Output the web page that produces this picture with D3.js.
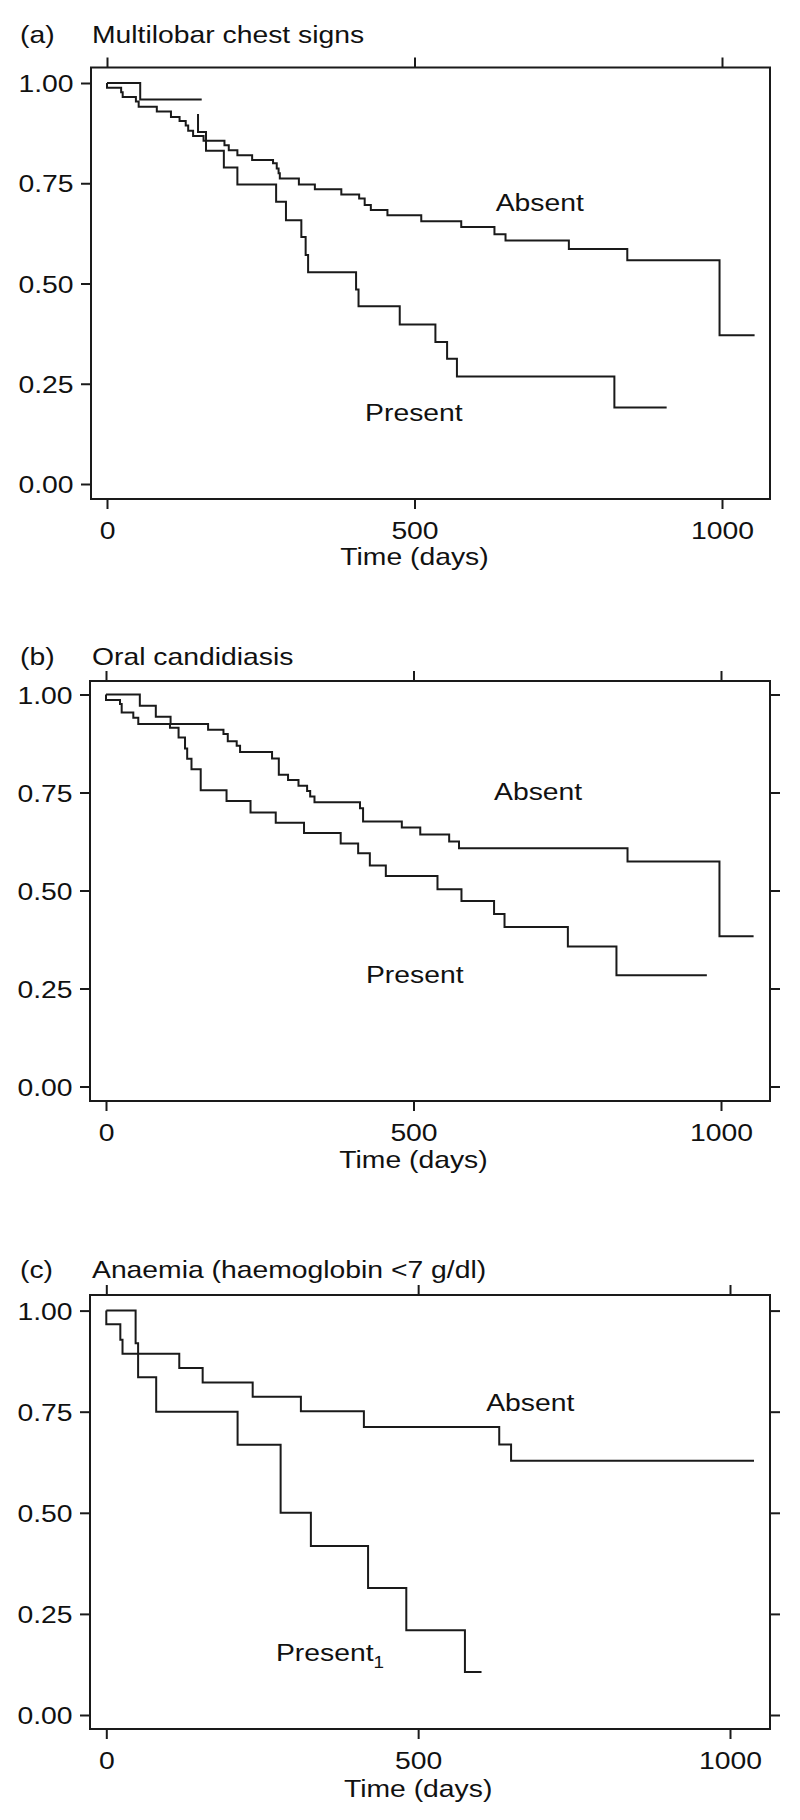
<!DOCTYPE html>
<html>
<head>
<meta charset="utf-8">
<script src="https://cdn.jsdelivr.net/npm/d3@7"></script>
<style>
  html, body { margin: 0; padding: 0; background: #fff; }
  svg { display: block; }
  text { font-family: "Liberation Sans", Arial, Helvetica, sans-serif; fill: #111; }
</style>
</head>
<body>
<svg id="chart" width="800" height="1820"></svg>
<script>
// ---------- data ----------
const panelLetters = ["(a)", "(b)", "(c)"];
const panelTitles = ["Multilobar chest signs", "Oral candidiasis", "Anaemia (haemoglobin <7 g/dl)"];
const xTicks = [0, 500, 1000];
const yTicks = [0, 0.25, 0.5, 0.75, 1];
const xAxisTitle = "Time (days)";
const seriesNames = ["Absent", "Present"];

// Panel (a): Multilobar chest signs
const absentA_t = [0, 0, 23, 25.5, 47, 51.5, 81, 104, 118, 128, 132, 140, 157, 191, 198, 212, 236, 270, 276, 279, 281, 312, 338, 381, 410, 419, 429, 456, 511, 576, 630, 648, 751, 846, 996, 1053];
const absentA_s = [1, 0.988, 0.977, 0.965, 0.954, 0.941, 0.929, 0.915, 0.905, 0.894, 0.881, 0.868, 0.856, 0.845, 0.832, 0.820, 0.808, 0.800, 0.787, 0.775, 0.762, 0.747, 0.735, 0.722, 0.712, 0.696, 0.683, 0.670, 0.655, 0.641, 0.623, 0.607, 0.586, 0.558, 0.371, 0.371];
const presentA1_t = [0, 54, 154];
const presentA1_s = [1, 0.959, 0.959];
const presentA2_t = [148, 148, 161, 190, 212, 275, 291, 316, 323, 327, 405, 409, 476, 534, 553, 569, 825, 910];
const presentA2_s = [0.923, 0.878, 0.831, 0.789, 0.747, 0.704, 0.658, 0.616, 0.571, 0.528, 0.485, 0.443, 0.398, 0.354, 0.3125, 0.268, 0.191, 0.191];

// Panel (b): Oral candidiasis
const absentB_t = [0, 55, 81, 105, 166, 191, 198, 212.5, 218, 270, 281, 296, 313, 327, 332, 339, 413, 418, 481, 511, 558, 574, 848, 997.5, 1053];
const absentB_s = [1, 0.971, 0.943, 0.925, 0.910, 0.899, 0.881, 0.869, 0.853, 0.837, 0.795, 0.782, 0.767, 0.754, 0.740, 0.725, 0.710, 0.676, 0.661, 0.643, 0.625, 0.608, 0.574, 0.383, 0.383];
const presentB_t = [0, 0, 22.8, 25.5, 44.4, 52.5, 104, 118, 128.5, 132, 139, 154, 196, 235, 276, 322, 381.6, 410, 429, 455, 539, 578, 631, 648, 751, 830, 977];
const presentB_s = [1, 0.986, 0.976, 0.954, 0.941, 0.925, 0.915, 0.890, 0.862, 0.836, 0.809, 0.756, 0.728, 0.699, 0.673, 0.647, 0.620, 0.595, 0.564, 0.537, 0.503, 0.473, 0.440, 0.407, 0.357, 0.284, 0.284];

// Panel (c): Anaemia
const absentC_t = [0, 0, 22.5, 26, 117, 154.5, 234.7, 312, 413, 630, 649, 1038.5];
const absentC_s = [1, 0.966, 0.928, 0.893, 0.858, 0.822, 0.787, 0.751, 0.712, 0.669, 0.629, 0.629];
const presentC_t = [0, 47, 51, 80, 210.5, 279.5, 328, 419.7, 481, 575, 601.6];
const presentC_s = [1, 0.919, 0.835, 0.750, 0.668, 0.500, 0.418, 0.314, 0.2095, 0.1066, 0.1066];

// ---------- layout ----------
const STRETCH = 1.18;   // horizontal stretch of the original lettering
const FS = 24;
const INK = "#1a1a1a";

const panels = [
  { frame: {l: 91, r: 770, t: 67.5, b: 499}, xr: [107, 722], yr: [484, 83], rightTicks: false,
    titleY: 42.5, axisTitleY: 565,
    curves: [[absentA_t, absentA_s], [presentA1_t, presentA1_s], [presentA2_t, presentA2_s]],
    labels: [{text: seriesNames[0], t: 632, s: 0.682, anchor: "start"},
             {text: seriesNames[1], t: 499, s: 0.157, anchor: "middle"}] },
  { frame: {l: 90, r: 770, t: 681, b: 1101}, xr: [106, 721], yr: [1086.5, 694.5], rightTicks: true,
    titleY: 665, axisTitleY: 1168,
    curves: [[absentB_t, absentB_s], [presentB_t, presentB_s]],
    labels: [{text: seriesNames[0], t: 631, s: 0.731, anchor: "start"},
             {text: seriesNames[1], t: 502, s: 0.264, anchor: "middle"}] },
  { frame: {l: 90, r: 770, t: 1295, b: 1729}, xr: [106.3, 730], yr: [1715, 1310.6], rightTicks: true,
    titleY: 1278, axisTitleY: 1797,
    curves: [[absentC_t, absentC_s], [presentC_t, presentC_s]],
    labels: [{text: seriesNames[0], t: 609, s: 0.751, anchor: "start"},
             {text: seriesNames[1], t: 272, s: 0.134, anchor: "start", sub: "1"}] }
];

const svg = d3.select("#chart");

function stretchedText(parent, x, y, str, anchor, size) {
  const t = parent.append("text")
    .attr("transform", `translate(${x},${y}) scale(${STRETCH},1)`)
    .attr("text-anchor", anchor || "start")
    .attr("font-size", size || FS)
    .text(str);
  return t;
}

panels.forEach((p, i) => {
  const g = svg.append("g");
  const x = d3.scaleLinear().domain([0, 1000]).range(p.xr);
  const y = d3.scaleLinear().domain([0, 1]).range(p.yr);
  const f = p.frame;

  // left axis
  const ga = g.append("g").attr("transform", `translate(${f.l},0)`)
    .call(d3.axisLeft(y).tickValues(yTicks).tickFormat(d3.format(".2f")).tickSize(10).tickPadding(7.5));
  // bottom axis
  const gb = g.append("g").attr("transform", `translate(0,${f.b})`)
    .call(d3.axisBottom(x).tickValues(xTicks).tickFormat(d3.format("d")).tickSize(10).tickPadding(13));
  // top axis (ticks only)
  const gt = g.append("g").attr("transform", `translate(0,${f.t})`)
    .call(d3.axisTop(x).tickValues(xTicks).tickFormat("").tickSize(10));
  const axes = [ga, gb, gt];
  if (p.rightTicks) {
    axes.push(g.append("g").attr("transform", `translate(${f.r},0)`)
      .call(d3.axisRight(y).tickValues(yTicks).tickFormat("").tickSize(10)));
  }
  axes.forEach(a => {
    a.select(".domain").remove();
    a.selectAll(".tick line").attr("stroke", INK).attr("stroke-width", 2);
  });
  ga.selectAll(".tick text").each(function() {
    const el = d3.select(this);
    const xx = +el.attr("x");
    el.attr("x", null).attr("dy", "0.36em")
      .attr("transform", `translate(${xx},0) scale(${STRETCH},1)`)
      .attr("font-size", FS).attr("font-family", null).attr("fill", INK);
  });
  gb.selectAll(".tick text").each(function() {
    const el = d3.select(this);
    el.attr("transform", `scale(${STRETCH},1)`)
      .attr("font-size", FS).attr("font-family", null).attr("fill", INK);
  });
  ga.attr("font-family", null).attr("font-size", null);
  gb.attr("font-family", null).attr("font-size", null);

  // frame
  g.append("rect")
    .attr("x", f.l).attr("y", f.t).attr("width", f.r - f.l).attr("height", f.b - f.t)
    .attr("fill", "none").attr("stroke", INK).attr("stroke-width", 2);

  // curves
  const line = d3.line().x(d => x(d[0])).y(d => y(d[1])).curve(d3.curveStepAfter);
  p.curves.forEach(([ts, ss]) => {
    const pts = ts.map((t, k) => [t, ss[k]]);
    g.append("path").attr("d", line(pts))
      .attr("fill", "none").attr("stroke", INK).attr("stroke-width", 2)
      .attr("stroke-linejoin", "miter");
  });

  // curve labels
  p.labels.forEach(lb => {
    const t = stretchedText(g, x(lb.t), y(lb.s), lb.text, lb.anchor);
    if (lb.sub) {
      t.append("tspan").attr("font-size", 16).attr("dy", 7).text(lb.sub);
    }
  });

  // panel title
  stretchedText(g, 20, p.titleY, panelLetters[i], "start");
  stretchedText(g, 92, p.titleY, panelTitles[i], "start");

  // x-axis title
  stretchedText(g, x(500), p.axisTitleY, xAxisTitle, "middle");
});
</script>
</body>
</html>
